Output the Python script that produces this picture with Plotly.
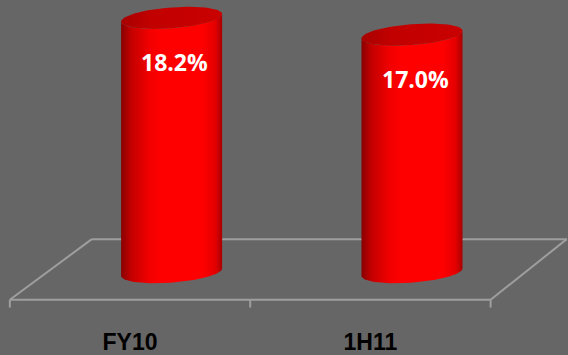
import numpy as np
import plotly.graph_objects as go

categories = ["FY10", "1H11"]
values = [18.2, 17.0]
value_labels = ["18.2%", "17.0%"]

BG = "#666666"
FLOOR = "#9e9e9e"

# axis ranges: categories sit at 0 and 1 on the front edge of the floor
X_RANGE = [-0.541, 1.822]
Y_RANGE = [-2.559, 19.474]
PX_X = 240.35   # pixels per category step
PX_Y = 14.07    # pixels per percentage point

# floor parallelogram (axis units)
FLOOR_FRONT = -1.969
FLOOR_BACK = 2.367
FLOOR_LEFT_BACK = -0.159
FLOOR_RIGHT_BACK = 1.817
TICK_BOTTOM = -2.53

# cylinder geometry (axis units)
DEPTH_X = 0.173
HALF_W = 50.5 / PX_X
ELL_B = 10.5 / PX_Y
ELL_K = 3.8 / PX_Y

BODY_SCALE = [[0.0, "#880000"], [0.1, "#c40000"], [0.28, "#f20000"],
              [0.4, "#ff0000"], [0.8, "#ff0000"], [0.93, "#e40000"],
              [1.0, "#a80000"]]
CAP_SCALE = [[0.0, "#a80000"], [0.3, "#c20000"], [1.0, "#c90000"]]


def ellipse(cx, cy, t):
    return cx + HALF_W * np.cos(t), cy - ELL_B * np.sin(t) + ELL_K * np.cos(t)


fig = go.Figure()

for i, v in enumerate(values):
    cx = i + DEPTH_X
    t_top = np.linspace(np.pi, 0, 60)
    t_bot = np.linspace(0, np.pi, 60)
    xt, yt = ellipse(cx, v, t_top)
    xb, yb = ellipse(cx, 0.0, t_bot)
    xs = np.concatenate([xt, xb, xt[:1]])
    ys = np.concatenate([yt, yb, yt[:1]])
    fig.add_trace(go.Scatter(
        x=xs, y=ys, mode="lines", line=dict(width=0), fill="toself",
        fillgradient=dict(type="horizontal", colorscale=BODY_SCALE,
                          start=cx - HALF_W, stop=cx + HALF_W),
        hoverinfo="skip", showlegend=False))
    t_cap = np.linspace(0, 2 * np.pi, 120)
    xc, yc = ellipse(cx, v, t_cap)
    fig.add_trace(go.Scatter(
        x=xc, y=yc, mode="lines", line=dict(width=0), fill="toself",
        fillgradient=dict(type="horizontal", colorscale=CAP_SCALE,
                          start=cx - HALF_W, stop=cx + HALF_W),
        hoverinfo="skip", showlegend=False))
    fig.add_annotation(x=cx + 0.013, y=v, yshift=-44, text=value_labels[i],
                       showarrow=False,
                       font=dict(family="Open Sans", size=23, color="white",
                                 weight="bold"))

floor_lines = [
    (-0.5, FLOOR_FRONT, 1.5, FLOOR_FRONT),
    (FLOOR_LEFT_BACK, FLOOR_BACK, FLOOR_RIGHT_BACK, FLOOR_BACK),
    (-0.5, FLOOR_FRONT, FLOOR_LEFT_BACK, FLOOR_BACK),
    (1.5, FLOOR_FRONT, FLOOR_RIGHT_BACK, FLOOR_BACK),
    (-0.5, FLOOR_FRONT, -0.5, TICK_BOTTOM),
    (0.5, FLOOR_FRONT, 0.5, TICK_BOTTOM),
    (1.5, FLOOR_FRONT, 1.5, TICK_BOTTOM),
]
for x0, y0, x1, y1 in floor_lines:
    fig.add_shape(type="line", x0=x0, y0=y0, x1=x1, y1=y1, layer="below",
                  line=dict(color=FLOOR, width=2))

fig.update_layout(
    width=568, height=355,
    margin=dict(l=0, r=0, t=0, b=45),
    paper_bgcolor=BG, plot_bgcolor=BG,
    xaxis=dict(range=X_RANGE, tickvals=[0, 1], ticktext=categories,
               showgrid=False, zeroline=False, showline=False, ticks="",
               ticklabelstandoff=18,
               tickfont=dict(family="Liberation Sans", size=23, color="#000000",
                             weight="bold")),
    yaxis=dict(range=Y_RANGE, visible=False),
)

fig.write_html("out.html")
